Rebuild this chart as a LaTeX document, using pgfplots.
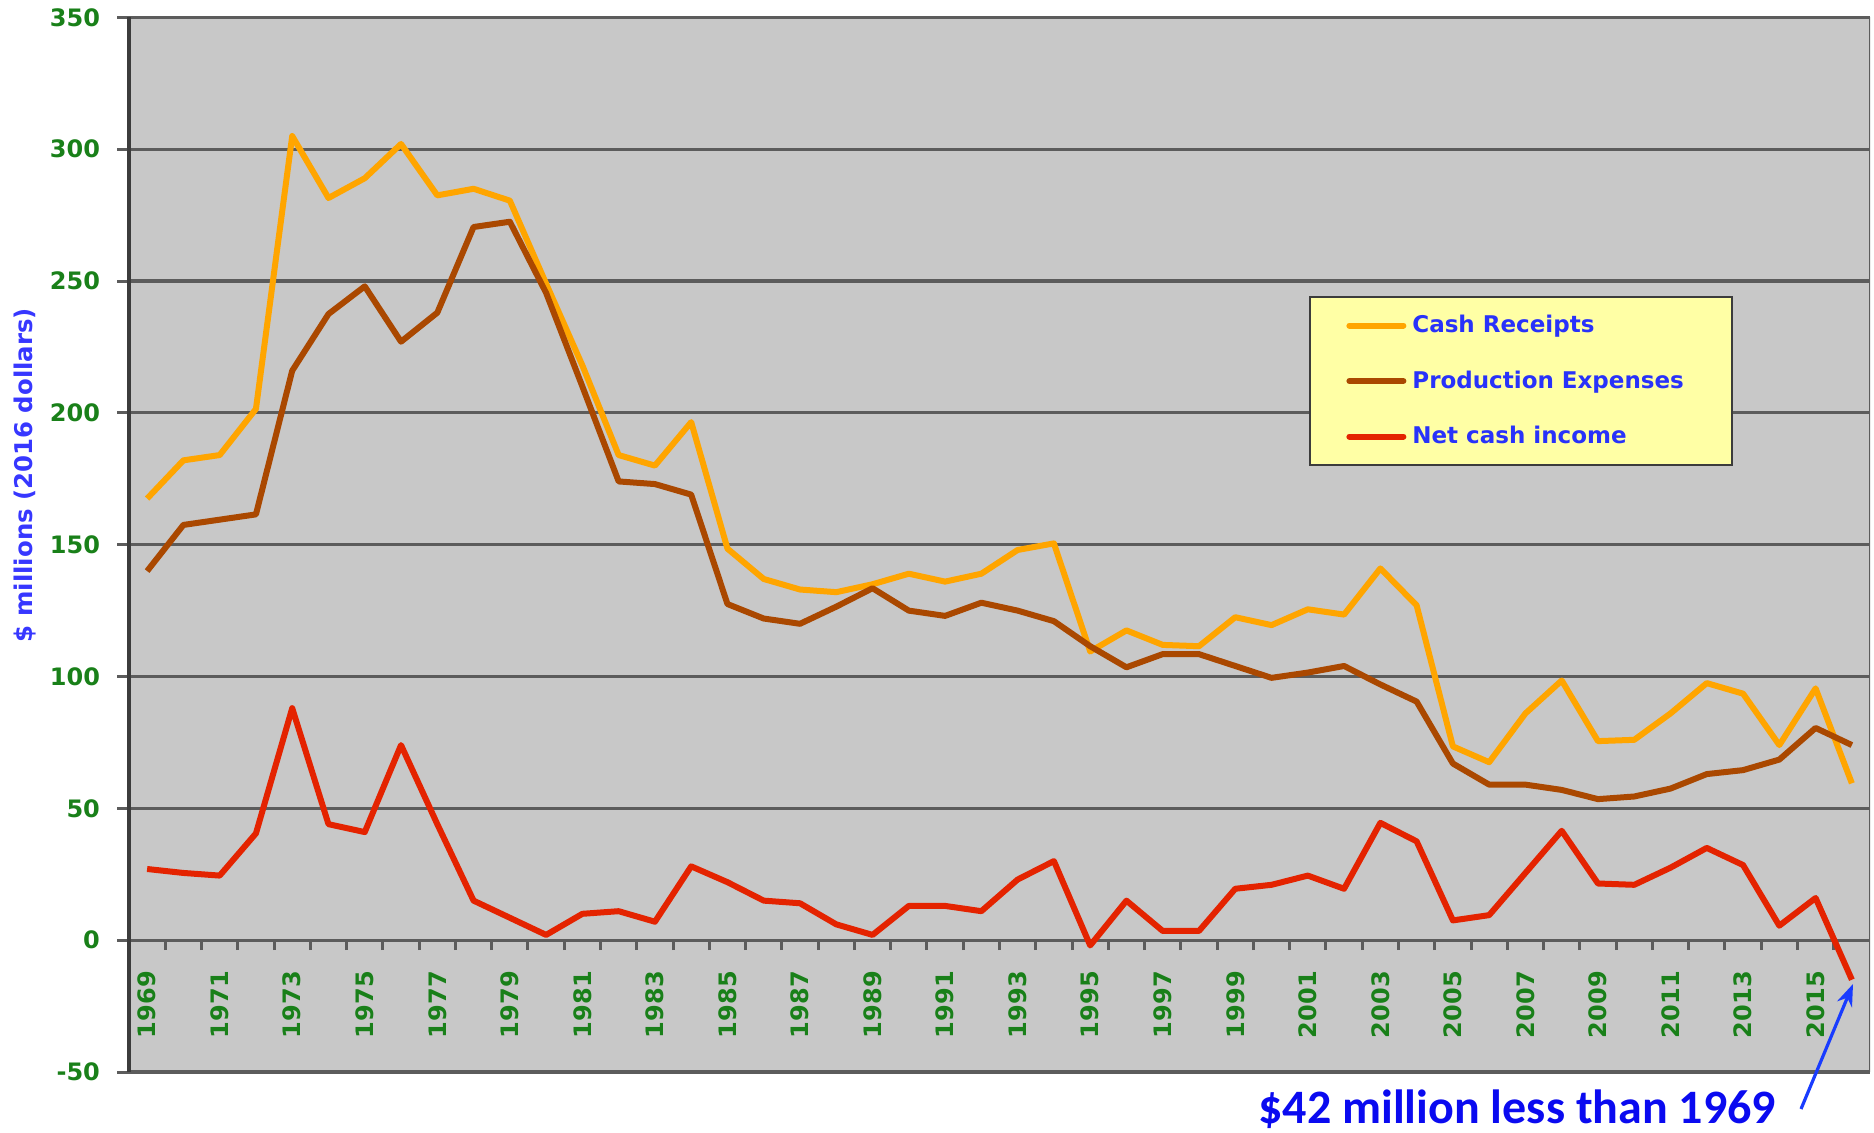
\documentclass[border=0pt]{standalone}
\usepackage{pgfplots}
\pgfplotsset{compat=1.18}
\usepackage{pgfplotstable}
\usetikzlibrary{arrows.meta}
\usepackage{fontspec}
\setmainfont{DejaVu Sans}
\newfontfamily\calib{Carlito}
\definecolor{bgc}{RGB}{200,200,200}
\definecolor{gridc}{RGB}{92,92,92}
\definecolor{axc}{RGB}{60,60,60}
\definecolor{tickc}{RGB}{25,128,25}
\definecolor{legfill}{RGB}{255,255,165}
\definecolor{legtext}{RGB}{40,50,250}
\definecolor{cashc}{RGB}{255,165,0}
\definecolor{expc}{RGB}{170,72,0}
\definecolor{netc}{RGB}{228,35,0}
\definecolor{annc}{RGB}{10,10,240}
\definecolor{arrc}{RGB}{25,60,255}
\definecolor{ylabc}{RGB}{55,55,255}

\pgfplotstableread{
year cash exp net
1969 167.5 140 27
1970 182 157.5 25.5
1971 184 159.5 24.5
1972 201.5 161.5 40.5
1973 305 216 88
1974 281.5 237.5 44
1975 289 248 41
1976 302 227 74
1977 282.5 238 44
1978 285 270.5 15
1979 280.5 272.5 8.5
1980 249 245.5 2
1981 218 210 10
1982 184 174 11
1983 180 173 7
1984 196.5 169 28
1985 148.5 127.5 22
1986 137 122 15
1987 133 120 14
1988 132 126.5 6
1989 135 133.5 2
1990 139 125 13
1991 136 123 13
1992 139 128 11
1993 148 125 23
1994 150.5 121 30
1995 109.5 111.5 -2
1996 117.5 103.5 15
1997 112 108.5 3.5
1998 111.5 108.5 3.5
1999 122.5 104 19.5
2000 119.5 99.5 21
2001 125.5 101.5 24.5
2002 123.5 104 19.5
2003 141 97 44.5
2004 127 90.5 37.5
2005 73.5 67 7.5
2006 67.5 59 9.5
2007 86 59 25.5
2008 98.5 57 41.5
2009 75.5 53.5 21.5
2010 76 54.5 21
2011 86 57.5 27.5
2012 97.5 63 35
2013 93.5 64.5 28.5
2014 74 68.5 5.5
2015 95.5 80.5 16
2016 59.5 74 -15
}\datatable

\begin{document}
\begin{tikzpicture}
\begin{axis}[
  at={(0,0)}, anchor=south west,
  scale only axis, width=870.5pt, height=527.3pt,
  xmin=1968.5, xmax=2016.5, ymin=-50, ymax=350,
  axis x line=middle, axis y line=left,
  axis line style={-},
  x axis line style={draw=gridc, line width=1.5pt},
  y axis line style={draw=axc, line width=1.6pt},
  axis background/.style={fill=bgc},
  hide obscured x ticks=false, hide obscured y ticks=false,
  ytick={-50,0,...,350},
  ymajorgrids, major grid style={draw=gridc, line width=1.6pt},
  xtick={1969,1971,...,2015},
  minor xtick={1969.5,1970.5,...,2015.5},
  x tick label style={/pgf/number format/1000 sep={}},
  xtick align=outside, ytick align=outside,
  major tick length=6pt, minor tick length=5pt,
  xtick style={draw=none},
  minor x tick style={draw=gridc, line width=1.5pt},
  ytick style={draw=gridc, line width=1.5pt},
  /pgf/number format/assume math mode=true,
  ticklabel style={text=tickc, font=\bfseries\fontsize{12}{14}\selectfont},
  xticklabel style={rotate=90, anchor=east},
  xticklabel shift=6pt,
  yticklabel shift=5pt,
  legend cell align=left,
  legend image code/.code={\draw[#1, line width=3pt, line cap=round] (0pt,0pt) -- (27pt,0pt);},
  legend style={at={(0.678,0.7355)}, anchor=north west,
    fill=legfill, draw=axc, line width=1pt,
    inner xsep=18pt, inner ysep=6pt, row sep=11.5pt,
    nodes={inner sep=3pt, text=legtext, font=\bfseries\fontsize{11.5}{13.5}\selectfont}},
  every axis plot/.append style={line width=3pt, line join=round},
]
\addplot[cashc] table[x=year, y=cash] {\datatable};
\addlegendentry{Cash Receipts}
\addplot[expc] table[x=year, y=exp] {\datatable};
\addlegendentry{Production Expenses\hspace*{3pt}}
\addplot[netc] table[x=year, y=net] {\datatable};
\addlegendentry{Net cash income}
\draw[gridc, line width=1pt] (rel axis cs:1,0) -- (rel axis cs:1,1);
\end{axis}
\node[rotate=90, text=ylabc, font=\bfseries\fontsize{12.2}{14}\selectfont] at (-52pt,298.5pt) {\$ millions (2016 dollars)};
\node[anchor=base west, text=annc, font=\calib\bfseries\fontsize{24}{28}\selectfont, inner sep=0pt] at (564.5pt,-25.5pt) {\$42 million less than 1969};
\draw[-{Stealth[length=11pt,width=8pt]}, arrc, line width=1.6pt] (836pt,-18.5pt) -- (862pt,44pt);
\pgfresetboundingbox
\path[use as bounding box] (-64.5pt,-30pt) rectangle (872.5pt,536pt);
\end{tikzpicture}
\end{document}
